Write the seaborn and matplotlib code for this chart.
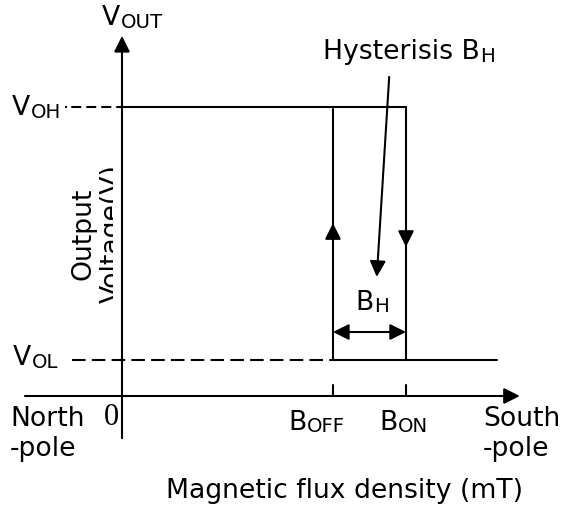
import matplotlib
matplotlib.use("Agg")
import matplotlib.pyplot as plt
import seaborn as sns
from matplotlib.patches import Rectangle
from matplotlib.transforms import offset_copy

sns.set_style("white")
plt.rcParams['font.family'] = ['DejaVu Sans']
plt.rcParams['text.color'] = 'black'

# ---- data (arbitrary units: mT on x, V on y) ----
B_OFF = 2.89
B_ON = 3.89
V_OH = 5.0
V_OL = 0.62
B_END = 5.14           # end of the low-level line
X_AXIS = [-1.33, 5.45]  # x-axis extent
Y_AXIS = [-0.73, 6.23]  # y-axis extent
DASH_OH = [-0.78, 0.0]
DASH_OL = [-0.685, B_OFF]
UP_ARROW_Y = 2.99
DOWN_ARROW_Y = 2.58
BH_ARROW_Y = 1.107
LEADER_START = (3.66, 5.52)
LEADER_END = (3.49, 2.06)
TICK_Y = [0.0, 0.19]

x_labels = ["North\n-pole", "0", ("B", "OFF"), ("B", "ON"), "South\n-pole"]
y_labels = [("V", "OUT"), ("V", "OH"), ("V", "OL")]
hyst_label = ("Hysterisis B", "H")
bh_label = ("B", "H")
xlabel = "Magnetic flux density (mT)"
ylabel1 = "Output"
ylabel2 = "Voltage(V)"

W, H = 561, 508
fig = plt.figure(figsize=(W / 100, H / 100), dpi=100)
ax = fig.add_axes([0, 0, 1, 1])
# pixel mapping: x_px = 122 + 73*x ; y_px = 396 - 57.8*y
ax.set_xlim(-122 / 73, (W - 122) / 73)
ax.set_ylim((396 - H) / 57.8, 396 / 57.8)
ax.axis("off")

def px(xp, yp):
    return (xp - 122) / 73, (396 - yp) / 57.8

LW = 1.5
K = "black"

def seg(xs, ys, **kw):
    sns.lineplot(x=xs, y=ys, estimator=None, sort=False, color=K, lw=LW, ax=ax, **kw)

def arrow(p0, p1, style='-|>', ms=24):
    ax.annotate("", xy=p1, xytext=p0,
                arrowprops=dict(arrowstyle=style, color=K, lw=LW, mutation_scale=ms,
                                shrinkA=0, shrinkB=0))

# axes with arrows
arrow((X_AXIS[0], 0), (X_AXIS[1], 0))
arrow((0, Y_AXIS[0]), (0, Y_AXIS[1]))

# dashed reference lines
seg(DASH_OH, [V_OH, V_OH], ls=(0, (1, 2, 4.8, 2.4, 4.8, 2.4, 4.8, 2.4, 4.8, 2.4)))
seg(DASH_OL, [V_OL, V_OL], ls=(0, (6.5, 3.0)))

# hysteresis loop
seg([0, B_ON], [V_OH, V_OH])
seg([B_OFF, B_END], [V_OL, V_OL])
seg([B_OFF, B_OFF], [V_OL, 4.965])
seg([B_ON, B_ON], [V_OL, V_OH])
# direction arrows
arrow((B_OFF, UP_ARROW_Y - 0.3), (B_OFF, UP_ARROW_Y))
arrow((B_ON, DOWN_ARROW_Y + 0.3), (B_ON, DOWN_ARROW_Y))
# B_H double arrow
arrow((B_OFF, BH_ARROW_Y), (B_ON, BH_ARROW_Y), style='<|-|>')
# leader arrow
arrow(LEADER_START, LEADER_END)

# ticks on x-axis
seg([B_OFF, B_OFF], TICK_Y)
seg([B_ON, B_ON], TICK_Y)

FS = 19.2
SUB = 0.74
renderer = fig.canvas.get_renderer()

def sublabel(xp, yp, pair):
    """Main text with left edge xp and baseline yp (pixels), followed by a subscript."""
    main, sub = pair
    t = ax.text(*px(xp, yp), main, fontsize=FS, ha="left", va="baseline")
    w = t.get_window_extent(renderer).width * 72 / 100
    tr = offset_copy(ax.transData, fig, x=w + 0.3, y=-1.8, units="points")
    ax.text(*px(xp, yp), sub, fontsize=FS * SUB, ha="left", va="baseline", transform=tr)

sublabel(102, 25, y_labels[0])
sublabel(12, 115, y_labels[1])
sublabel(13, 365, y_labels[2])
sublabel(323, 59, hyst_label)
sublabel(355, 310, bh_label)
sublabel(288, 430, x_labels[2])
sublabel(379, 430, x_labels[3])

ax.text(*px(10, 406), x_labels[0], fontsize=FS, ha="left", va="top", linespacing=1.2)
ax.text(*px(483, 406), x_labels[4], fontsize=FS, ha="left", va="top", linespacing=1.2)
ax.text(*px(111.5, 425), x_labels[1], fontsize=22, ha="center", va="baseline",
        family=["Liberation Serif"])
ax.text(*px(345, 498), xlabel, fontsize=FS, ha="center", va="baseline")

# rotated y label (second line clipped by the axis)
ax.text(*px(83, 234), ylabel1, fontsize=FS, rotation=90, ha="center", va="center")
t2 = ax.text(*px(113, 234), ylabel2, fontsize=FS, rotation=90,
             ha="center", va="center", clip_on=True)
clip = Rectangle(px(0, 600), 113 / 73, 12, transform=ax.transData)
t2.set_clip_path(clip)

fig.savefig("out.png", dpi=100)
